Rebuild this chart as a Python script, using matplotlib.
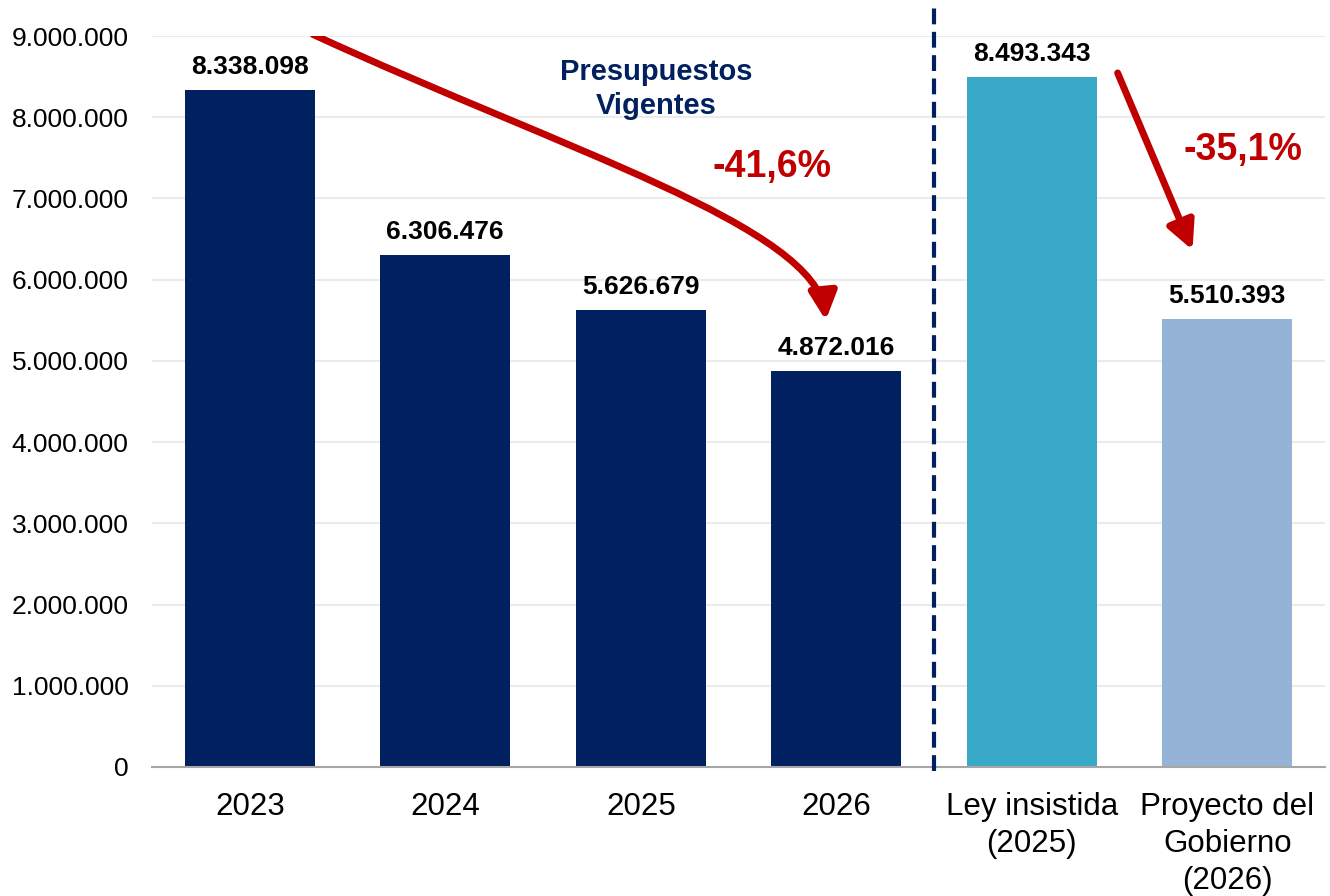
import numpy as np
import matplotlib.pyplot as plt
from matplotlib.patches import FancyArrowPatch
from matplotlib.path import Path

plt.rcParams['font.family'] = ['Liberation Sans', 'DejaVu Sans']

# Data
categories = ["2023", "2024", "2025", "2026", "Ley insistida\n(2025)", "Proyecto del\nGobierno\n(2026)"]
values = [8338098, 6306476, 5626679, 4872016, 8493343, 5510393]
bar_colors = ["#002060", "#002060", "#002060", "#002060", "#3AA9C7", "#95B3D7"]
pct_labels = ["-41,6%", "-35,1%"]

def fmt(v):
    return f"{v:,.0f}".replace(",", ".")

fig = plt.figure(figsize=(13.3, 8.96), dpi=100)
ax = fig.add_axes([0.1143, 0.144, 0.882, 0.8158])

x = np.arange(len(categories))
ax.bar(x, values, width=0.665, color=bar_colors, zorder=3)

for xi, v in zip(x, values):
    ax.annotate(fmt(v), (xi, v), xytext=(0, 8), textcoords="offset points",
                ha="center", va="bottom", fontsize=19, fontweight="bold", color="black")

ax.set_xlim(-0.5, len(categories) - 0.5)
ax.set_ylim(0, 9000000)
ax.set_yticks(np.arange(0, 9000001, 1000000))
ax.set_yticklabels([fmt(t) for t in np.arange(0, 9000001, 1000000)], fontsize=19)
ax.set_xticks(x)
ax.set_xticklabels(categories, fontsize=22.5, linespacing=1.3)
ax.tick_params(axis="both", length=0)
ax.tick_params(axis="y", pad=17)
ax.tick_params(axis="x", pad=18)

ax.grid(axis="y", color="#EBEBEB", linewidth=1.5, zorder=0)
for s in ["top", "right", "left"]:
    ax.spines[s].set_visible(False)
ax.spines["bottom"].set_color("#A6A6A6")
ax.spines["bottom"].set_linewidth(1.5)
ax.spines["bottom"].set_zorder(4)

# separator between historical and 2026 comparison
ax.plot([3.5, 3.5], [-50000, 9380000], color="#002060", linewidth=3,
        linestyle=(0, (3.8, 1.8)), clip_on=False, zorder=5)

ax.text(2.08, 8350000, "Presupuestos\nVigentes", ha="center", va="center",
        fontsize=21, fontweight="bold", color="#002060", linespacing=1.3)

# curved arrow -41,6%
verts = [(0.323, 9020000), (1.6, 7600000), (2.9, 6650000), (2.946, 5500000)]
path = Path(verts, [Path.MOVETO, Path.CURVE4, Path.CURVE4, Path.CURVE4])
arr1 = FancyArrowPatch(path=path, arrowstyle="-|>,head_length=1.2,head_width=0.6",
                       color="#C00000", linewidth=5, mutation_scale=14, zorder=6)
ax.add_patch(arr1)

arr2 = FancyArrowPatch((4.439, 8545000), (4.822, 6365000),
                       arrowstyle="-|>,head_length=1.2,head_width=0.6",
                       color="#C00000", linewidth=5, mutation_scale=14,
                       shrinkA=0, shrinkB=0, zorder=6)
ax.add_patch(arr2)

ax.text(2.67, 7390000, pct_labels[0], ha="center", va="center",
        fontsize=27, fontweight="bold", color="#C00000")
ax.text(5.078, 7600000, pct_labels[1], ha="center", va="center",
        fontsize=27, fontweight="bold", color="#C00000")

fig.savefig("out.png", dpi=100)
